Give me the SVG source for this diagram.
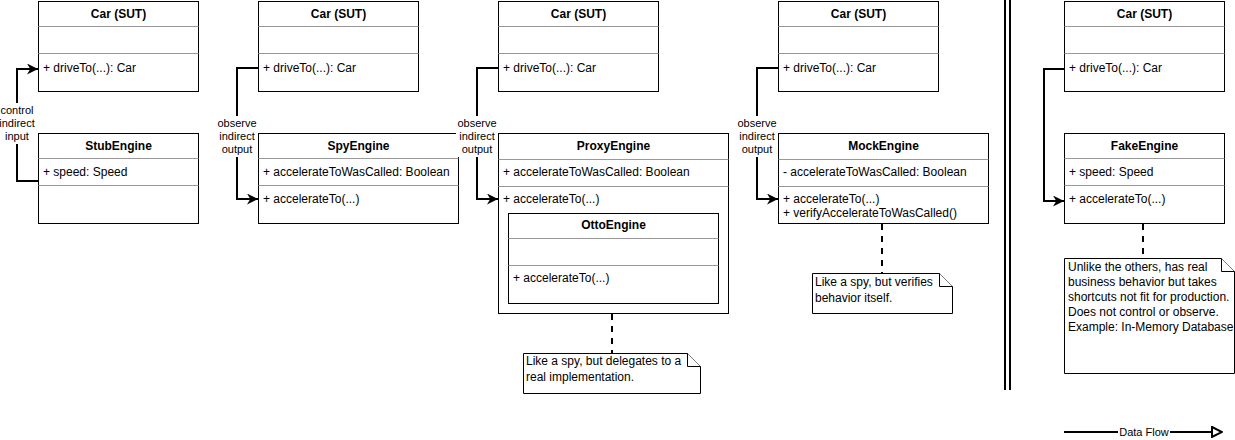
<svg xmlns="http://www.w3.org/2000/svg" width="1235" height="440" viewBox="0 0 1235 440">
<defs>
<marker id="arr" markerUnits="userSpaceOnUse" markerWidth="11" markerHeight="11" viewBox="0 0 10 10" refX="10" refY="5" orient="auto">
<path d="M0,0 L10,5 L0,10 L3,5 z" fill="#000"/>
</marker>
<marker id="open" markerUnits="userSpaceOnUse" markerWidth="12" markerHeight="12" viewBox="-1 -1 12 12" refX="10" refY="5" orient="auto">
<path d="M0,0 L10,5 L0,10 z" fill="#fff" stroke="#000" stroke-width="2"/>
</marker>
</defs>
<style>
.box{fill:#fff;stroke:#000;stroke-width:1}
.div{stroke:#999;stroke-width:1}
.t{font-family:"Liberation Sans",Arial,sans-serif;font-size:12px;fill:#000}
.b{font-weight:bold;text-anchor:middle}
.lbl{font-family:"Liberation Sans",Arial,sans-serif;font-size:11px;fill:#000;text-anchor:middle}
.c{fill:none;stroke:#000;stroke-width:2}
.dash{fill:none;stroke:#000;stroke-width:2;stroke-dasharray:6 6}
.note{fill:#fff;stroke:#000;stroke-width:1}
</style>
<rect width="1235" height="440" fill="#fff"/>

<g id="car1">
<rect class="box" x="38.5" y="1.5" width="160" height="90"/>
<line class="div" x1="38.5" y1="26.5" x2="198.5" y2="26.5"/>
<line class="div" x1="38.5" y1="53.5" x2="198.5" y2="53.5"/>
<text class="t b" x="118.5" y="18">Car (SUT)</text>
<text class="t" x="43" y="72">+ driveTo(...): Car</text>
</g>
<g id="stub">
<rect class="box" x="38.5" y="133.5" width="160" height="90"/>
<line class="div" x1="38.5" y1="158.5" x2="198.5" y2="158.5"/>
<line class="div" x1="38.5" y1="185.5" x2="198.5" y2="185.5"/>
<text class="t b" x="118.5" y="150">StubEngine</text>
<text class="t" x="43" y="176">+ speed: Speed</text>
</g>

<g id="car2">
<rect class="box" x="258.5" y="1.5" width="160" height="90"/>
<line class="div" x1="258.5" y1="26.5" x2="418.5" y2="26.5"/>
<line class="div" x1="258.5" y1="53.5" x2="418.5" y2="53.5"/>
<text class="t b" x="338.5" y="18">Car (SUT)</text>
<text class="t" x="263" y="72">+ driveTo(...): Car</text>
</g>
<g id="spy">
<rect class="box" x="258.5" y="133.5" width="200" height="90"/>
<line class="div" x1="258.5" y1="158.5" x2="458.5" y2="158.5"/>
<line class="div" x1="258.5" y1="185.5" x2="458.5" y2="185.5"/>
<text class="t b" x="358.5" y="150">SpyEngine</text>
<text class="t" x="263" y="176">+ accelerateToWasCalled: Boolean</text>
<text class="t" x="263" y="203">+ accelerateTo(...)</text>
</g>

<g id="car3">
<rect class="box" x="498.5" y="1.5" width="160" height="90"/>
<line class="div" x1="498.5" y1="26.5" x2="658.5" y2="26.5"/>
<line class="div" x1="498.5" y1="53.5" x2="658.5" y2="53.5"/>
<text class="t b" x="578.5" y="18">Car (SUT)</text>
<text class="t" x="503" y="72">+ driveTo(...): Car</text>
</g>
<g id="proxy">
<rect class="box" x="498.5" y="133.5" width="230" height="180"/>
<line class="div" x1="498.5" y1="159.5" x2="728.5" y2="159.5"/>
<line class="div" x1="498.5" y1="186.5" x2="728.5" y2="186.5"/>
<text class="t b" x="613.5" y="150">ProxyEngine</text>
<text class="t" x="503" y="176">+ accelerateToWasCalled: Boolean</text>
<text class="t" x="503" y="203">+ accelerateTo(...)</text>
</g>
<g id="otto">
<rect class="box" x="508.5" y="213.5" width="210" height="90"/>
<line class="div" x1="508.5" y1="238.5" x2="718.5" y2="238.5"/>
<line class="div" x1="508.5" y1="265.5" x2="718.5" y2="265.5"/>
<text class="t b" x="613.5" y="229">OttoEngine</text>
<text class="t" x="513" y="282">+ accelerateTo(...)</text>
</g>
<g id="note-proxy">
<path class="note" d="M523.5,353.5 H687.5 L700.5,366.5 V393.5 H523.5 Z"/>
<path class="note" d="M687.5,353.5 V366.5 H700.5" fill="none"/>
<text class="t" x="526" y="365">Like a spy, but delegates to a</text>
<text class="t" x="526" y="381">real implementation.</text>
</g>

<g id="car4">
<rect class="box" x="778.5" y="1.5" width="160" height="90"/>
<line class="div" x1="778.5" y1="26.5" x2="938.5" y2="26.5"/>
<line class="div" x1="778.5" y1="53.5" x2="938.5" y2="53.5"/>
<text class="t b" x="858.5" y="18">Car (SUT)</text>
<text class="t" x="783" y="72">+ driveTo(...): Car</text>
</g>
<g id="mock">
<rect class="box" x="778.5" y="133.5" width="210" height="90"/>
<line class="div" x1="778.5" y1="159.5" x2="988.5" y2="159.5"/>
<line class="div" x1="778.5" y1="186.5" x2="988.5" y2="186.5"/>
<text class="t b" x="883.5" y="150">MockEngine</text>
<text class="t" x="783" y="176">- accelerateToWasCalled: Boolean</text>
<text class="t" x="783" y="203">+ accelerateTo(...)</text>
<text class="t" x="783" y="217">+ verifyAccelerateToWasCalled()</text>
</g>
<g id="note-mock">
<path class="note" d="M812.5,273.5 H939.5 L952.5,286.5 V313.5 H812.5 Z"/>
<path class="note" d="M939.5,273.5 V286.5 H952.5" fill="none"/>
<text class="t" x="815" y="286">Like a spy, but verifies</text>
<text class="t" x="815" y="302">behavior itself.</text>
</g>

<g id="separator">
<line x1="1005" y1="0" x2="1005" y2="390" stroke="#000" stroke-width="2"/>
<line x1="1010" y1="0" x2="1010" y2="390" stroke="#000" stroke-width="2"/>
</g>

<g id="car5">
<rect class="box" x="1064.5" y="1.5" width="160" height="90"/>
<line class="div" x1="1064.5" y1="26.5" x2="1224.5" y2="26.5"/>
<line class="div" x1="1064.5" y1="53.5" x2="1224.5" y2="53.5"/>
<text class="t b" x="1144.5" y="18">Car (SUT)</text>
<text class="t" x="1069" y="72">+ driveTo(...): Car</text>
</g>
<g id="fake">
<rect class="box" x="1064.5" y="133.5" width="160" height="90"/>
<line class="div" x1="1064.5" y1="158.5" x2="1224.5" y2="158.5"/>
<line class="div" x1="1064.5" y1="185.5" x2="1224.5" y2="185.5"/>
<text class="t b" x="1144.5" y="150">FakeEngine</text>
<text class="t" x="1069" y="176">+ speed: Speed</text>
<text class="t" x="1069" y="203">+ accelerateTo(...)</text>
</g>
<g id="note-fake">
<path class="note" d="M1064.5,258.5 H1221.5 L1234.5,271.5 V373.5 H1064.5 Z"/>
<path class="note" d="M1221.5,258.5 V271.5 H1234.5" fill="none"/>
<text class="t" x="1068" y="271">Unlike the others, has real</text>
<text class="t" x="1068" y="286">business behavior but takes</text>
<text class="t" x="1068" y="301">shortcuts not fit for production.</text>
<text class="t" x="1068" y="316">Does not control or observe.</text>
<text class="t" x="1068" y="331">Example: In-Memory Database</text>
</g>

<g id="connectors">
<path class="c" d="M38,181 H17 V69 H38" marker-end="url(#arr)"/>
<path class="c" d="M258,68 H237 V199 H258" marker-end="url(#arr)"/>
<path class="c" d="M498,68 H477 V199 H498" marker-end="url(#arr)"/>
<path class="c" d="M778,68 H757 V199 H778" marker-end="url(#arr)"/>
<path class="c" d="M1064,69 H1044 V201 H1064" marker-end="url(#arr)"/>
<path class="dash" d="M612,314 V353"/>
<path class="dash" d="M882,224 V273"/>
<path class="dash" d="M1143,224 V258"/>
<path class="c" d="M1064,432 H1222" marker-end="url(#open)"/>
</g>

<g id="labels">
<rect x="0" y="103" width="35" height="41" fill="#fff"/>
<text class="lbl" x="17" y="114">control</text>
<text class="lbl" x="17" y="127">indirect</text>
<text class="lbl" x="17" y="140">input</text>
<rect x="216" y="116" width="41" height="41" fill="#fff"/>
<text class="lbl" x="237" y="127">observe</text>
<text class="lbl" x="237" y="140">indirect</text>
<text class="lbl" x="237" y="153">output</text>
<rect x="456" y="116" width="41" height="41" fill="#fff"/>
<text class="lbl" x="477" y="127">observe</text>
<text class="lbl" x="477" y="140">indirect</text>
<text class="lbl" x="477" y="153">output</text>
<rect x="736" y="116" width="41" height="41" fill="#fff"/>
<text class="lbl" x="757" y="127">observe</text>
<text class="lbl" x="757" y="140">indirect</text>
<text class="lbl" x="757" y="153">output</text>
<rect x="1118" y="425" width="52" height="14" fill="#fff"/>
<text class="lbl" x="1144" y="436">Data Flow</text>
</g>
</svg>
